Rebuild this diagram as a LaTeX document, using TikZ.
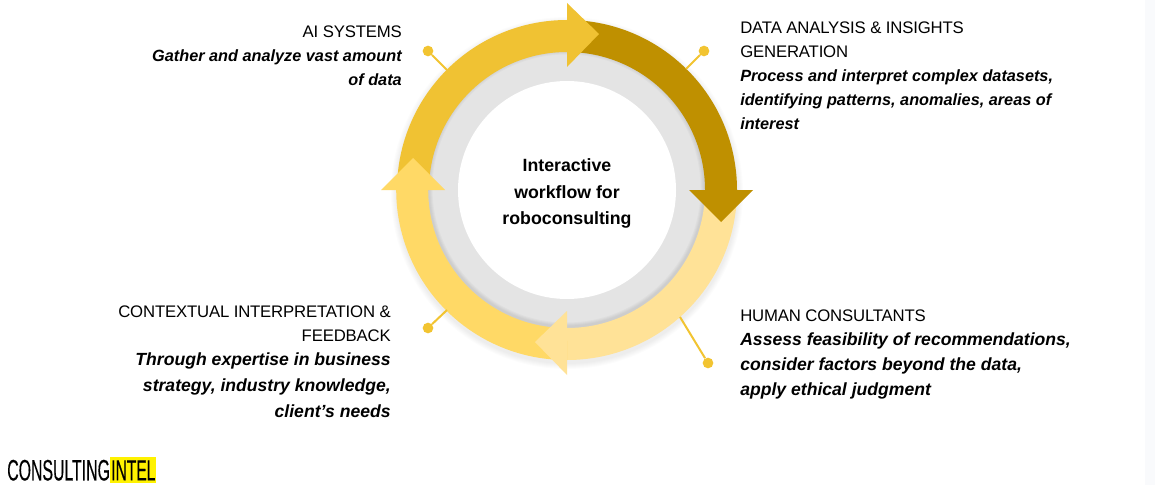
\documentclass[tikz,border=0pt]{standalone}
\usepackage{fontspec}
\usepackage{graphicx}
\setmainfont{Liberation Sans}
\newfontfamily\logofont[FakeBold=0.35]{Liberation Sans}
\definecolor{ringA}{HTML}{F0C233}
\definecolor{ringB}{HTML}{BF9000}
\definecolor{ringC}{HTML}{FFE297}
\definecolor{ringD}{HTML}{FFD966}
\definecolor{leader}{HTML}{F2C431}
\definecolor{greyring}{HTML}{E4E4E4}
\definecolor{logoyellow}{HTML}{FFF200}
\definecolor{stripe}{HTML}{F9FAFC}
\tikzset{
  band/.style={draw=none},
  dotnode/.style={circle,fill=leader,draw=none,minimum size=8pt,inner sep=0pt},
  leaderline/.style={draw=leader,line width=1.5pt},
  blockleft/.style={anchor=north west,align=left,inner sep=0pt,text=black},
  blockright/.style={anchor=north east,align=right,inner sep=0pt,text=black},
  smallbold/.style={font=\fontsize{12.2pt}{18pt}\selectfont},
  largebold/.style={font=\fontsize{13.2pt}{18pt}\selectfont},
  centertext/.style={align=center,inner sep=0pt,text=black,font=\fontsize{13.3pt}{20pt}\selectfont\bfseries},
}
\newcommand{\hd}[1]{{\fontsize{12.55pt}{18pt}\selectfont\addfontfeature{LetterSpace=-1.0}#1}\\}
\newcommand{\bi}[1]{{\bfseries\itshape #1}}
\begin{document}
\begin{tikzpicture}[x=0.75pt,y=0.75pt]
\useasboundingbox (0,0) rectangle (1155,-485);
\fill[white] (0,0) rectangle (1155,-485);
\fill[stripe] (1145,0) rectangle (1155,-485);
\coordinate (c) at (567,-190);
% soft outer shadow
\foreach \r in {176,175,174,173,172,171}{
  \fill[black,opacity=0.012] (567,-193) circle[radius=\r];
}
\fill[greyring] (c) circle[radius=139];
% shadow of the band on the grey ring
\foreach \r in {137,136,135,134}{
  \fill[black,opacity=0.022,even odd rule] (c) circle[radius=140] (566.5,-188.5) circle[radius=\r];
}
\fill[white] (c) circle[radius=109];
% bands
\begin{scope}[shift={(c)}]
\fill[ringA,band] (180:170) arc[start angle=180,end angle=90,radius=170] -- (90:138) arc[start angle=90,end angle=180,radius=138] -- cycle;
\fill[ringB,band] (90:170) arc[start angle=90,end angle=0,radius=170] -- (0:138) arc[start angle=0,end angle=90,radius=138] -- cycle;
\fill[ringC,band] (0:170) arc[start angle=0,end angle=-90,radius=170] -- (-90:138) arc[start angle=-90,end angle=0,radius=138] -- cycle;
\end{scope}
\begin{scope}[shift={(566.2,-190)}]
\fill[ringD,band] (-89.7:170) arc[start angle=-89.7,end angle=-180,radius=170] -- (180:138) arc[start angle=180,end angle=270.3,radius=138] -- cycle;
\end{scope}
% arrow heads
\fill[ringA] (567,-3) -- (599,-34) -- (567,-67) -- cycle;
\fill[ringB] (689,-190) -- (753,-190) -- (721,-222) -- cycle;
\fill[ringC] (567,-311) -- (535,-342) -- (567,-375) -- cycle;
\fill[ringD] (381,-190) -- (445,-190) -- (413,-158) -- cycle;
% leaders
\coordinate (endA) at (447,-70);
\coordinate (endB) at (686,-69);
\coordinate (endC) at (680,-317);
\coordinate (endD) at (447,-310);
\node[dotnode] (dotA) at (428,-51) {};
\node[dotnode] (dotB) at (704,-51) {};
\node[dotnode] (dotC) at (708,-363) {};
\node[dotnode] (dotD) at (428,-328) {};
\draw[leaderline] (dotA) -- (endA);
\draw[leaderline] (dotB) -- (endB);
\draw[leaderline] (dotC) -- (endC);
\draw[leaderline] (dotD) -- (endD);
% texts
\node[centertext] (mid) at (567,-193.5) {Interactive\\workflow for\\roboconsulting};
\node[blockright,smallbold] (ai) at (402,-25.5) {\hd{AI SYSTEMS}\bi{Gather and analyze vast amount}\\\bi{of data}};
\node[blockleft,smallbold] (data) at (740,-21.5) {\hd{DATA ANALYSIS \& INSIGHTS}\hd{GENERATION}\bi{Process and interpret complex datasets,}\\\bi{identifying patterns, anomalies, areas of}\\\bi{interest}};
\node[blockleft,largebold] (human) at (740,-310) {\hd{HUMAN CONSULTANTS}\bi{Assess feasibility of recommendations,}\\[0.4pt]\bi{consider factors beyond the data,}\\[0.4pt]\bi{apply ethical judgment}};
\node[blockright,largebold] (context) at (391,-305.5) {\hd{CONTEXTUAL INTERPRETATION \&}\hd{FEEDBACK}\bi{Through expertise in business}\\[1.6pt]\bi{strategy, industry knowledge,}\\[1.6pt]\bi{client’s needs}};
% logo
\node[anchor=south west,inner sep=0pt,text=black] (logoa) at (7,-481) {\resizebox{77pt}{15.5pt}{\logofont CONSULTING}};
\node[anchor=south west,fill=logoyellow,inner xsep=0.8pt,inner ysep=2.2pt,text=black] (logob) at (110,-483.5) {\resizebox{33pt}{15pt}{\logofont INTEL}};
\end{tikzpicture}
\end{document}
